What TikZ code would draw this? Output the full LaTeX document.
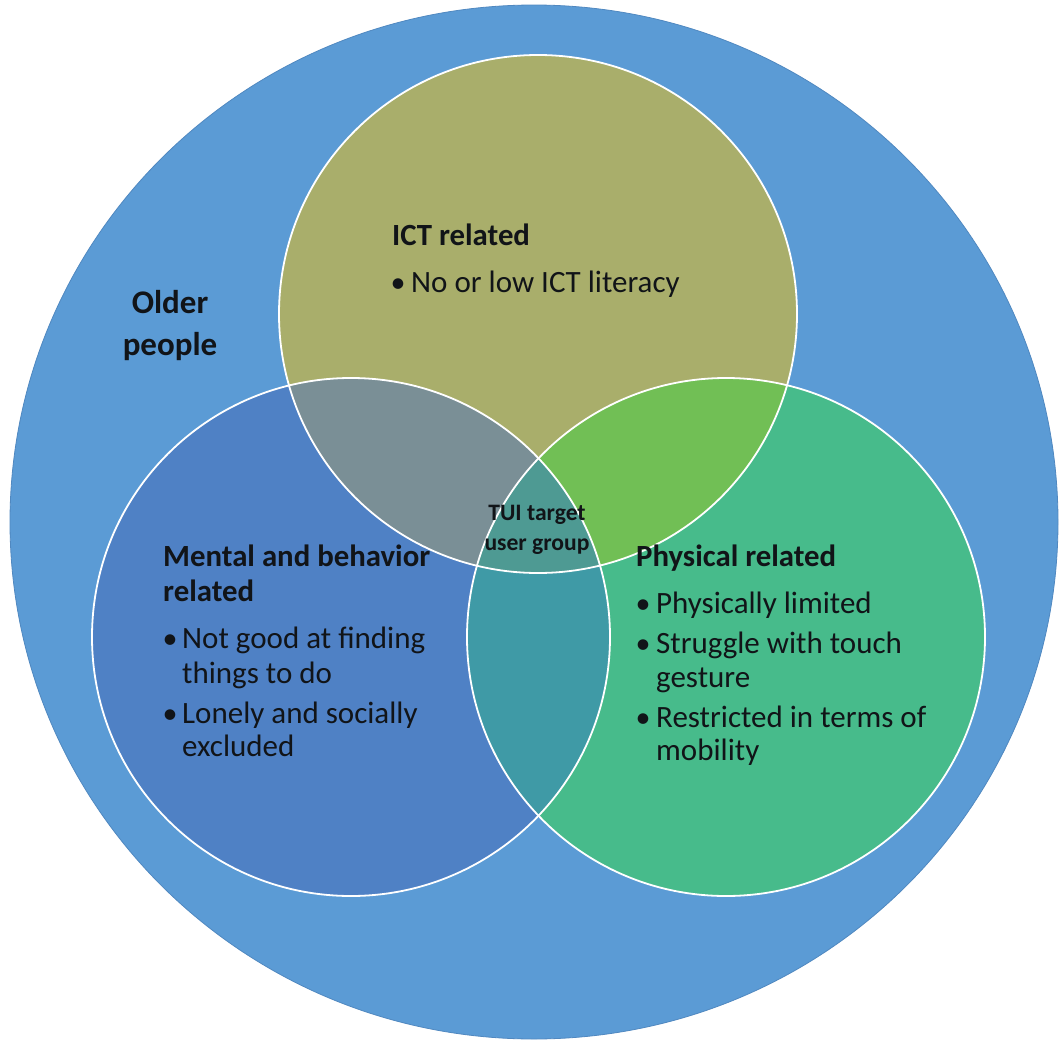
\documentclass[tikz,border=0pt]{standalone}
\usepackage{fontspec}
\setmainfont{Carlito}
\definecolor{outerc}{HTML}{5B9BD5}
\definecolor{outeredge}{HTML}{5088C0}
\definecolor{topc}{HTML}{A9AE6B}
\definecolor{leftc}{HTML}{4F81C5}
\definecolor{rightc}{HTML}{47BB8B}
\definecolor{tlc}{HTML}{7A8F96}
\definecolor{trc}{HTML}{71BF55}
\definecolor{lrc}{HTML}{3F9AA6}
\definecolor{allc}{HTML}{4E9A93}
\definecolor{textc}{HTML}{111418}
\begin{document}
\begin{tikzpicture}[x=1pt,y=-1pt,
  txt/.style={anchor=base west, inner sep=0pt, text=textc, font=\fontsize{31}{36}\selectfont},
  hd/.style={anchor=base west, inner sep=0pt, text=textc, font=\fontsize{30.8}{36}\selectfont\bfseries},
  bigl/.style={anchor=base, inner sep=0pt, text=textc, font=\fontsize{33}{40}\selectfont\bfseries},
  smalll/.style={anchor=base, inner sep=0pt, text=textc, font=\fontsize{23.6}{28}\selectfont\bfseries},
  bul/.style={anchor=base, inner sep=0pt, text=textc, font=\fontsize{30}{35}\selectfont},
  ring/.style={draw=white, line width=1.8pt}]
\useasboundingbox (0,0) rectangle (1061,1044);
% centres
\coordinate (O) at (534,522);
\coordinate (T) at (538,314);
\coordinate (L) at (351,637);
\coordinate (R) at (726,637);
% outer circle
\fill[outerc] (O) ellipse [x radius=524pt, y radius=517pt];
\draw[outeredge, line width=0.8pt] (O) ellipse [x radius=524pt, y radius=517pt];
% single circles
\fill[topc] (T) circle [radius=259pt];
\fill[leftc] (L) circle [radius=259pt];
\fill[rightc] (R) circle [radius=259pt];
% pairwise overlaps
\begin{scope}
  \clip (T) circle [radius=259pt];
  \fill[tlc] (L) circle [radius=259pt];
  \fill[trc] (R) circle [radius=259pt];
\end{scope}
\begin{scope}
  \clip (L) circle [radius=259pt];
  \fill[lrc] (R) circle [radius=259pt];
\end{scope}
\begin{scope}
  \clip (T) circle [radius=259pt];
  \clip (L) circle [radius=259pt];
  \fill[allc] (R) circle [radius=259pt];
\end{scope}
% outlines
\draw[ring] (T) circle [radius=259pt];
\draw[ring] (L) circle [radius=259pt];
\draw[ring] (R) circle [radius=259pt];
% labels
\node[bigl] (older1) at (170,313) {Older};
\node[bigl] (older2) at (170,355) {people};
\node[hd] (ict) at (392,245) {ICT related};
\node[bul] (ictb) at (398,292) {•};
\node[txt] (ict1) at (411,292) {No or low ICT literacy};
\node[hd] (men1) at (163,566) {Mental and behavior};
\node[hd] (men2) at (163,601) {related};
\node[bul] (menb1) at (170,648) {•};
\node[txt] (men3) at (182,648) {Not good at finding};
\node[txt] (men4) at (182,683) {things to do};
\node[bul] (menb2) at (170,723) {•};
\node[txt] (men5) at (182,723) {Lonely and socially};
\node[txt] (men6) at (182,756) {excluded};
\node[hd] (phy) at (636,566) {Physical related};
\node[bul] (phyb1) at (643,613) {•};
\node[txt] (phy1) at (656,613) {Physically limited};
\node[bul] (phyb2) at (643,653) {•};
\node[txt] (phy2) at (656,653) {Struggle with touch};
\node[txt] (phy3) at (656,687) {gesture};
\node[bul] (phyb3) at (643,727) {•};
\node[txt] (phy4) at (656,727) {Restricted in terms of};
\node[txt] (phy5) at (656,760) {mobility};
\node[smalll] (tui1) at (537,520) {TUI target};
\node[smalll] (tui2) at (537,550) {user group};
\end{tikzpicture}
\end{document}
